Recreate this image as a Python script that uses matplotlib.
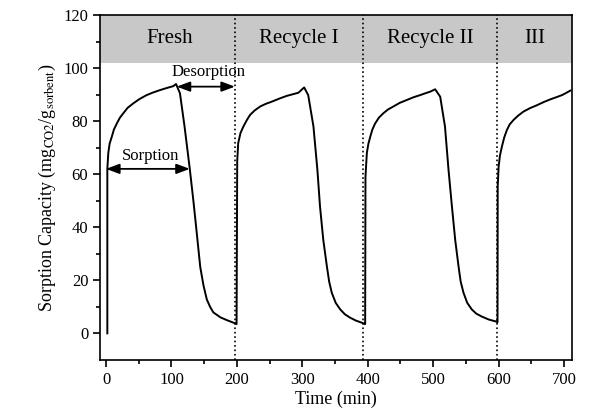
import matplotlib.pyplot as plt

plt.rcParams['font.family'] = ['Liberation Serif', 'DejaVu Serif']
plt.rcParams['mathtext.fontset'] = 'stix'

# Sorption / desorption curve (time in min, capacity in mg/g)
time_min = [2, 2, 3.5, 5.5, 8.7, 12, 16.3, 21, 26.5, 33, 41.7, 51, 62, 72, 82.6, 93, 103, 107,
            113, 120, 128, 133.5, 138.6, 144, 149, 154, 159, 164, 175, 184.5, 197, 199.5,
            199.5, 200.5, 202, 205.5, 210, 215, 220, 227, 235.5, 244, 253, 265, 276, 285, 294,
            302.8, 309, 317, 323, 327, 332, 337.5, 341, 345, 351, 358, 365, 373, 382, 391, 395.5,
            396, 396.5, 398.6, 401, 403.7, 407, 411, 417, 424, 431, 439, 449, 460, 470, 480, 488,
            495.4, 503, 510.7, 518, 523.4, 528.6, 533.6, 538.7, 542, 546.3, 552, 559, 566,
            574.5, 585, 597,
            598.3, 598.6, 600, 602, 605, 608.5, 612.7, 617, 623, 630, 638, 648, 658.6, 669, 679,
            688, 696.8, 703, 709.5]
capacity = [0, 62, 68, 71.5, 74, 76.8, 79, 81.2, 83, 85, 86.7, 88.3, 89.8, 90.8, 91.7, 92.5,
            93.2, 94,
            90.5, 78, 62, 50, 38, 25, 18, 12.8, 10, 7.9, 6.0, 5.0, 3.8, 3.5,
            3.5, 65, 71.7, 75.5, 78, 80.3, 82.3, 84, 85.5, 86.5, 87.3, 88.5, 89.5, 90.1, 90.7,
            92.7, 89.8, 78, 61.7, 47.9, 35.3, 25.3, 19.5, 15.3, 11.5, 9, 7.2, 5.9, 4.8, 4.0, 3.5,
            3.5, 59, 68, 71.5, 74, 76.8, 79, 81.3, 83, 84.4, 85.5, 86.9, 88, 89, 89.8, 90.5,
            91.1, 92, 89.2, 78, 61.7, 47.9, 35.3, 25.3, 19.5, 15.3, 11.5, 9, 7.4,
            6.3, 5.2, 4.4,
            4.2, 55.4, 62.9, 67, 70.4, 73.8, 76.7, 78.8, 80.5, 82.1, 83.6, 84.9, 86, 87.2, 88.2,
            89, 89.8, 90.6, 91.5]

cycle_bounds = [197, 392, 598]
cycle_labels = ['Fresh', 'Recycle I', 'Recycle II', 'III']
label_x = [98, 295, 495, 655]

fig = plt.figure(figsize=(5.89, 4.17), dpi=100)
ax = fig.add_axes([0.170, 0.137, 0.801, 0.827])

ax.axhspan(102, 120, color='#c8c8c8', lw=0)
for xb in cycle_bounds:
    ax.axvline(xb, color='black', ls=':', lw=1.2)
for x, lab in zip(label_x, cycle_labels):
    ax.text(x, 111, lab, ha='center', va='center', fontsize=15)

ax.plot(time_min, capacity, color='black', lw=1.4)

# arrows
arrow_style = '<|-|>,head_length=0.8,head_width=0.3'
ax.annotate('', xy=(0, 62), xytext=(128, 62),
            arrowprops=dict(arrowstyle=arrow_style, color='black', lw=1.3, shrinkA=0, shrinkB=0))
ax.text(68, 64, 'Sorption', ha='center', va='bottom', fontsize=12)
ax.annotate('', xy=(108, 93), xytext=(197, 93),
            arrowprops=dict(arrowstyle=arrow_style, color='black', lw=1.3, shrinkA=0, shrinkB=0))
ax.text(157, 95.5, 'Desorption', ha='center', va='bottom', fontsize=12)

ax.set_xlim(-9, 712)
ax.set_ylim(-10, 120)
ax.set_xticks(range(0, 701, 100))
ax.set_xticks(range(50, 701, 100), minor=True)
ax.set_yticks(range(0, 121, 20))
ax.set_yticks(range(10, 121, 20), minor=True)
ax.tick_params(which='both', direction='out', labelsize=12, width=1.2)
ax.tick_params(which='major', length=5)
ax.tick_params(which='minor', length=3)
for s in ax.spines.values():
    s.set_linewidth(1.2)

ax.set_xlabel('Time (min)', fontsize=13, labelpad=2)
ax.set_ylabel(r'Sorption Capacity (mg$_{\mathrm{CO2}}$/g$_{\mathrm{sorbent}}$)', fontsize=13)

fig.savefig('out.png', dpi=100)
